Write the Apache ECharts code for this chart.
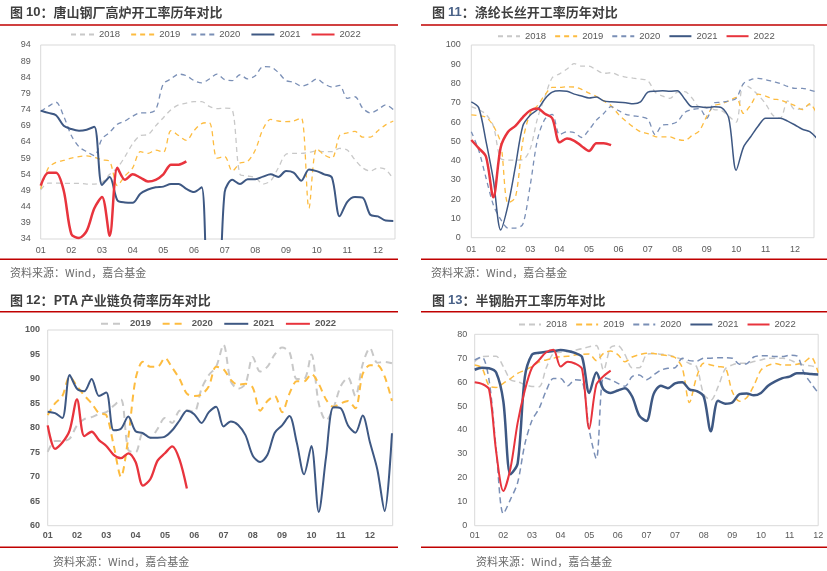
<!DOCTYPE html>
<html><head><meta charset="utf-8">
<script src="https://cdn.jsdelivr.net/npm/echarts@6/dist/echarts.min.js"></script>
<style>html,body{margin:0;padding:0;background:#fff}#c{width:827px;height:571px}</style>
</head><body><div id="c"></div><script>
// ---------- tick labels ----------
const monthLabels = ['01','02','03','04','05','06','07','08','09','10','11','12'];
const monthLabels4 = ['01','02','03','04','05','06','07','07','08','09','10','11','12'];
const c1YTicks = [34,39,44,49,54,59,64,69,74,79,84,89,94];
const c2YTicks = [0,10,20,30,40,50,60,70,80,90,100];
const c3YTicks = [60,65,70,75,80,85,90,95,100];
const c4YTicks = [0,10,20,30,40,50,60,70,80];

// ---------- chart 1: 唐山钢厂高炉开工率 (weekly values) ----------
const c1_2018 = [49.2,51.3,51.3,51.2,51.2,51.2,51,51,51.5,54,56,59.5,63.5,66,66.3,69,71.5,74,75.5,76,76.5,76.5,75,74.3,74.5,74,54,53.5,53,51,52,56,60.2,60.5,60.5,60.8,61.2,61,61,62,61.5,58.5,56,55,56,55.5,52.5];
const c1_2019 = [49.5,56,57.7,58.3,59,59.5,59.7,59.2,58.5,58,50.5,53.5,56,61,60.5,61.5,60.8,67.5,66,64.5,67.5,69.7,70,59,59.5,55,57.5,58,61.5,68,71,70.5,70.3,70.5,71.5,43.5,62,60,59,66,66.8,67.3,65.5,65.5,67.5,69.3,70.5];
const c1_2020 = [73.5,75,76.3,72,66,62.5,61,59.8,65,67,69.5,70.5,72,73,73,74,82,83.5,85,84.5,83,82.3,83.5,85,83.3,83,84.8,83.5,84.5,87.3,87.2,85.5,83,82.5,81.3,82,83.5,82,81,81.5,77.5,78,74.5,73,74,75.5,74];
const c1_2021 = [73.7,73,72.3,69,68,67.5,67.8,68.7,50.7,53.2,46,45.3,45.2,48,49.3,50,50.2,51,51,49.5,48.5,50,10,10,48.5,52.3,51,52.5,52.5,53.3,54,53.2,55,54.5,52,55.5,55,54,53,41,45.5,47,46.8,41.5,41,39.7,39.6];
const c1_2022 = [50.5,54.5,54.5,49,35.5,34.3,36.5,43.5,47,35,56,52.3,54,53,51.8,52.3,54,57,57,58];

// ---------- chart 2: 涤纶长丝开工率 ----------
const c2_2018 = [68,66.5,64,58,41,40.3,40.3,40.5,46,62,73,83,85,87.5,90.3,89,89,87,85.3,85.6,84.3,83.3,82.8,82.3,81.5,75.5,73.5,72.3,75.5,75.8,72.5,68,68,66.5,66,63,60,80,77.5,74,69.5,63.5,62,71,66.5,67,69,69];
const c2_2019 = [63.7,63.3,62.5,58,49,18,21,50,64.5,68.5,74,78,78,78.3,78.2,77,75,73.3,71,68.5,64,60.5,57.5,55,54,52.5,52.3,52.3,51,50.5,53,55.5,63,68.5,69.5,71,72.8,64.5,69,74.5,73.5,72,71.5,70,68.5,66.5,69.5,64];
const c2_2020 = [55,45.5,31,17,9.5,5,5,7,27,51,61.5,64,53.5,55,54.5,52,56,61,64.5,68,66,64,63.3,62.8,61.5,53.5,58.5,58.8,60.2,65,66.5,67,62,70,70.3,71,72.3,80,82,82.7,82,81,80,78.5,77.5,77.5,76.6,75.5];
const c2_2021 = [70.5,67.5,50,30,4,17,37,58,63.5,66.5,72,75.5,76.2,76,74.5,73.5,72.5,73,71,70.5,70.3,70,69.5,70.5,75.5,76,76.2,76,76.3,72,68,68,67.5,68,67.5,62,35,47,52.5,58,62,62,62,60.5,58.5,56.3,55,51.5];
const c2_2022 = [50.7,46.5,42,21,47,55,58,62.5,66,67,64.3,62,49.5,51.5,50.3,47.5,45,49,49,48];

// ---------- chart 3: PTA 产业链负荷率 ----------
const c3_2019 = [75.1,77.3,77.3,77.8,80.5,81.8,82.2,82.8,83.2,84.5,85.8,75.5,75,79,78,79.8,82,81,83.5,83.6,83.3,88,90.8,92.5,97,89.5,88,89,94.5,91.5,92.5,95,96.4,95.5,90,90,95,85,81.5,84,88.5,90.3,86.5,93,96.3,93.3,93.5,93.2];
const c3_2020 = [82.6,85,86.5,90.5,88.5,86.6,85,83,82.6,76.5,70,78,90,93.5,92.5,92.5,94.3,92.3,90,87,86.5,86.8,88.5,92.5,92,89.8,88.8,89,88.2,83.5,85.5,86.5,83.2,87,89.5,89.5,91,89,85.8,84.3,85,85.5,84,91,92.8,92.8,90.5,85.5];
const c3_2021 = [83.3,83,82,90.8,88,87.5,90,86.5,87.2,79.5,79.8,82.3,79.3,78.9,78,78,78.2,79.5,81.5,83.5,82.8,81,83.2,84.3,80.3,81.3,80.6,78.5,74.3,73,74.5,79,80.5,82.4,77,70.5,76.3,62.8,74,84.2,84,80.5,79,82.5,77,71.5,63,78.9];
const c3_2022 = [80.5,75.7,77,79.5,85.8,78.3,79.2,77.5,76.3,74.5,73.8,74.8,73,68.2,69.5,73.3,74.8,76.2,73.5,67.6];

// ---------- chart 4: 半钢胎开工率 ----------
const c4_2018 = [68.6,70.7,70.8,70.8,66.5,61,60.2,59,58.2,58.1,66,72,72.5,72.8,73.4,74,74.8,75.3,65,74.5,75.3,71.5,66,66,71.5,72,71.7,71.4,70.5,69.5,67.8,66.5,55,52.5,58,65.5,67.2,67.9,67.9,68.6,69.3,70,70,70,69.3,68,67.2,66.8,66];
const c4_2019 = [67.2,66,58.5,57.8,59.5,61.5,63.7,65,66.5,68.5,69.3,70,70.7,70.8,71.3,71.6,71.8,69,72,73,71.5,68.5,70.5,71.5,72.1,72,71.5,71,70.3,66,51.5,62,67.9,67.2,66.5,66,56,52,53.5,58.5,65,67,67.8,67.2,67.2,67.5,68.3,70.5,64];
const c4_2020 = [69.3,70.5,61,32,5,11,18,34,44,49,56.5,61.5,61.5,58.5,61,60.5,40,28,62,61,59.5,58.3,62.3,63,61,63,65,65.8,66,70,69,68.8,70,70,70.2,70.2,70,67.5,67.7,70.5,71,71,70.7,70.7,71.2,71,64,59.5,55.5];
const c4_2021 = [65.2,66,65.8,64,52,21.5,26,62,71.5,72.3,72.7,73,73.4,73,72.2,70.5,55.5,64,57,55.5,56.5,57.5,54,46,43.8,55,58.5,57.5,59.5,60,57,56.3,54,39.5,52.2,51,51.5,55,55.3,54.5,55.5,58.5,60.3,61.7,62.3,63.7,63.7,63.4,63.2];
const c4_2022 = [60,59.3,57,31,14.5,24,43,56.5,66,69.3,72.5,73.5,66.5,68.5,67.8,65.5,40.5,59,62.5,64.8];

// ---------- styles ----------
const GRAY = '#c8c8c8', ORANGE = '#fdbc40', BLUEG = '#7a8fb6', NAVY = '#3e5883', RED = '#e8343d';
const AXFONT = '"Liberation Sans", Arial, sans-serif';
const CJK = '"Noto Sans CJK SC", sans-serif';
const STEP = 0.25; // one weekly sample = quarter of a month on the x scale

function pts(arr){ return arr.map((v,i)=>[i*STEP, v]); }
function line(k, year, arr, color, width, dash){
  return {
    name: k + ':' + year, type: 'line', xAxisIndex: k, yAxisIndex: k,
    data: pts(arr), symbol: 'none', smooth: 0.3, silent: true, animation: false,
    lineStyle: {color: color, width: width, type: dash ? dash : 'solid', cap: 'butt'},
    itemStyle: {color: color}
  };
}
const grids = [
  {left: 40.7, top: 45, width: 354.3, height: 194},
  {left: 471.3, top: 45, width: 342.7, height: 192.7},
  {left: 47.7, top: 330, width: 345, height: 195.7},
  {left: 474.7, top: 334.3, width: 343.5, height: 191.4}
].map(g => Object.assign(g, {show: true, borderColor: '#d9d9d9', borderWidth: 1, containLabel: false}));

const xMax = [11.556, 11.645, 11.775, 12];
const xLab = [monthLabels, monthLabels, monthLabels, monthLabels4];
const yMin = [34, 0, 60, 0], yMax = [94, 100, 100, 80];
const yT = [c1YTicks, c2YTicks, c3YTicks, c4YTicks];
const bold = [false, false, true, false];
const yMargin = [10, 10.6, 7.7, 7.4], xMargin = [7, 7, 5, 5];

const xAxis = [0,1,2,3].map(k => ({
  type: 'value', gridIndex: k, min: 0, max: xMax[k],
  axisLine: {show: false}, axisTick: {show: false}, splitLine: {show: false},
  axisLabel: {customValues: xLab[k].map((_, i) => i), formatter: v => xLab[k][Math.round(v)],
    fontSize: 9, color: '#595959', fontFamily: AXFONT, fontWeight: bold[k] ? 'bold' : 'normal', margin: xMargin[k]}
}));
const yAxis = [0,1,2,3].map(k => ({
  type: 'value', gridIndex: k, min: yMin[k], max: yMax[k],
  axisLine: {show: false}, axisTick: {show: false}, splitLine: {show: false},
  axisLabel: {customValues: yT[k], fontSize: 9, color: '#595959', fontFamily: AXFONT,
    fontWeight: bold[k] ? 'bold' : 'normal', margin: yMargin[k]}
}));

const series = [
  line(0,'2018',c1_2018,GRAY,1.3,[5,4]), line(0,'2019',c1_2019,ORANGE,1.3,[5,4]), line(0,'2020',c1_2020,BLUEG,1.3,[5,4]),
  line(0,'2021',c1_2021,NAVY,2,null), line(0,'2022',c1_2022,RED,2.5,null),
  line(1,'2018',c2_2018,GRAY,1.3,[5,4]), line(1,'2019',c2_2019,ORANGE,1.3,[5,4]), line(1,'2020',c2_2020,BLUEG,1.3,[5,4]),
  line(1,'2021',c2_2021,NAVY,1.5,null), line(1,'2022',c2_2022,RED,2.5,null),
  line(2,'2019',c3_2019,GRAY,2,[7,5]), line(2,'2020',c3_2020,ORANGE,2,[7,5]),
  line(2,'2021',c3_2021,NAVY,2,null), line(2,'2022',c3_2022,RED,2.3,null),
  line(3,'2018',c4_2018,GRAY,1.5,[6,4]), line(3,'2019',c4_2019,ORANGE,1.5,[6,4]), line(3,'2020',c4_2020,BLUEG,1.5,[6,4]),
  line(3,'2021',c4_2021,NAVY,2.5,null), line(3,'2022',c4_2022,RED,2,null)
];

function legend(k, years, left, top, iw, gap, isBold){
  return {data: years.map(y => k + ':' + y), left: left, top: top, padding: 0, itemWidth: iw, itemHeight: 10,
    itemGap: gap, selectedMode: false, formatter: n => n.split(':')[1],
    itemStyle: {opacity: 0, borderWidth: 0, color: 'rgba(0,0,0,0)'},
    textStyle: {fontSize: 9.5, color: '#595959', fontFamily: AXFONT, fontWeight: isBold ? 'bold' : 'normal', padding: [0,0,0,0]}};
}
const legends = [
  legend(0, ['2018','2019','2020','2021','2022'], 70, 29.5, 23, 10, false),
  legend(1, ['2018','2019','2020','2021','2022'], 497, 31.2, 22, 8, false),
  legend(2, ['2019','2020','2021','2022'], 100, 318.8, 24, 10.5, true),
  legend(3, ['2018','2019','2020','2021','2022'], 518, 319.5, 22, 8, false)
];

function title(x, y, num, txt, numColor){
  return {type: 'text', x: x, y: y, silent: true, style: {
    text: '{a|图 }{b|' + num + '}{a|：' + txt + '}', verticalAlign: 'middle', align: 'left',
    rich: {a: {fontFamily: CJK, fontSize: 13, fontWeight: 'bold', fill: '#3f3f3f'},
           b: {fontFamily: AXFONT, fontSize: 13, fontWeight: 'bold', fill: numColor}}}};
}
function rule(x1, x2, y){ return {type: 'line', silent: true, shape: {x1: x1, y1: y, x2: x2, y2: y}, style: {stroke: '#c00000', lineWidth: 1.5}}; }
function src(x, y){ return {type: 'text', x: x, y: y, silent: true, style: {text: '资料来源：Wind，嘉合基金', fontFamily: CJK, fontSize: 11, fill: '#6b6b6b', verticalAlign: 'middle', align: 'left'}}; }

const graphic = [
  title(10, 12.3, '10', '唐山钢厂高炉开工率历年对比', '#3f3f3f'),
  title(432, 12.3, '11', '涤纶长丝开工率历年对比', '#4a6288'),
  title(10, 300, '12', 'PTA 产业链负荷率历年对比', '#3f3f3f'),
  title(432, 300, '13', '半钢胎开工率历年对比', '#4a6288'),
  rule(0, 398, 25), rule(421, 827, 25), rule(0, 398, 311.7), rule(421, 827, 311.7),
  rule(0, 398, 259.3), rule(421, 827, 259.3), rule(0, 398, 547.3), rule(421, 827, 547.3),
  src(10, 273), src(431, 273), src(53, 561.5), src(476, 561.5)
];

const chart = echarts.init(document.getElementById('c'), null, {renderer: 'canvas'});
chart.setOption({
  animation: false, backgroundColor: '#fff',
  grid: grids, xAxis: xAxis, yAxis: yAxis, legend: legends, series: series, graphic: graphic
});
</script></body></html>
